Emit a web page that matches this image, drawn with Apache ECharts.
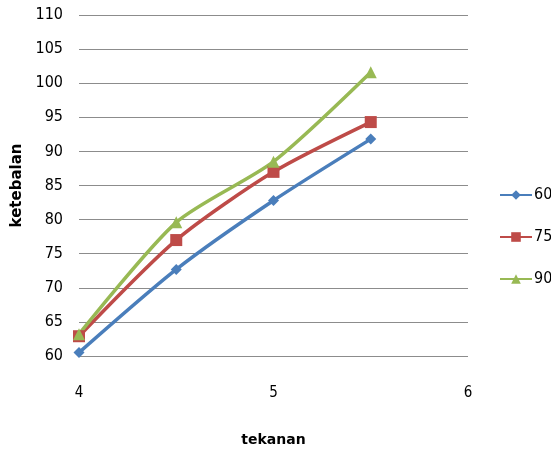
<!DOCTYPE html>
<html><head><meta charset="utf-8">
<script src="https://cdn.jsdelivr.net/npm/echarts@6/dist/echarts.min.js"></script>
<style>html,body{margin:0;padding:0;background:#fff}#c{width:551px;height:452px}</style>
</head><body><div id="c"></div>
<script>
const xValues = [4, 4.5, 5, 5.5];
const s60 = [60.5, 72.7, 82.8, 91.8];
const s75 = [62.9, 77.0, 87.0, 94.3];
const s90 = [63.2, 79.6, 88.5, 101.6];
const names = ['60', '75', '90'];
const colors = ['#4a7ebb', '#be4b48', '#98b954'];
const symbols = ['diamond', 'rect', 'triangle'];
const sizes = [11, 12, 12];
const all = [s60, s75, s90];
const font = "'DejaVu Sans Condensed', 'Liberation Sans Narrow', sans-serif";

const chart = echarts.init(document.getElementById('c'));
chart.setOption({
  animation: false,
  grid: { left: 79, right: 83, top: 15, bottom: 93 },
  xAxis: {
    type: 'value', min: 4, max: 6, interval: 1,
    name: 'tekanan', nameLocation: 'middle', nameGap: 77,
    nameTextStyle: { fontWeight: 'bold', fontSize: 14, color: '#000', fontFamily: 'DejaVu Sans' },
    axisLine: { show: false }, axisTick: { show: false }, splitLine: { show: false },
    axisLabel: { margin: 30, fontSize: 15, color: '#000', fontFamily: font }
  },
  yAxis: {
    type: 'value', min: 60, max: 110, interval: 5,
    name: 'ketebalan', nameLocation: 'middle', nameGap: 50,
    nameTextStyle: { fontWeight: 'bold', fontSize: 15, color: '#000', fontFamily: 'DejaVu Sans' },
    axisLine: { show: false }, axisTick: { show: false },
    splitLine: { lineStyle: { color: '#8c8c8c', width: 1.2 } },
    axisLabel: { margin: 16, fontSize: 16, color: '#000', fontFamily: font }
  },
  legend: {
    orient: 'vertical', left: 494, top: 182, itemGap: 26, itemWidth: 32, itemHeight: 12,
    textStyle: { fontSize: 16, color: '#000', fontFamily: font, padding: [0, 0, 0, -3] },
    data: names
  },
  series: all.map((vals, i) => ({
    name: names[i], type: 'line', smooth: 0.25,
    data: xValues.map((x, j) => [x, vals[j]]),
    symbol: symbols[i], symbolSize: sizes[i],
    lineStyle: { color: colors[i], width: 3.5 },
    itemStyle: { color: colors[i] }
  }))
});
</script></body></html>
